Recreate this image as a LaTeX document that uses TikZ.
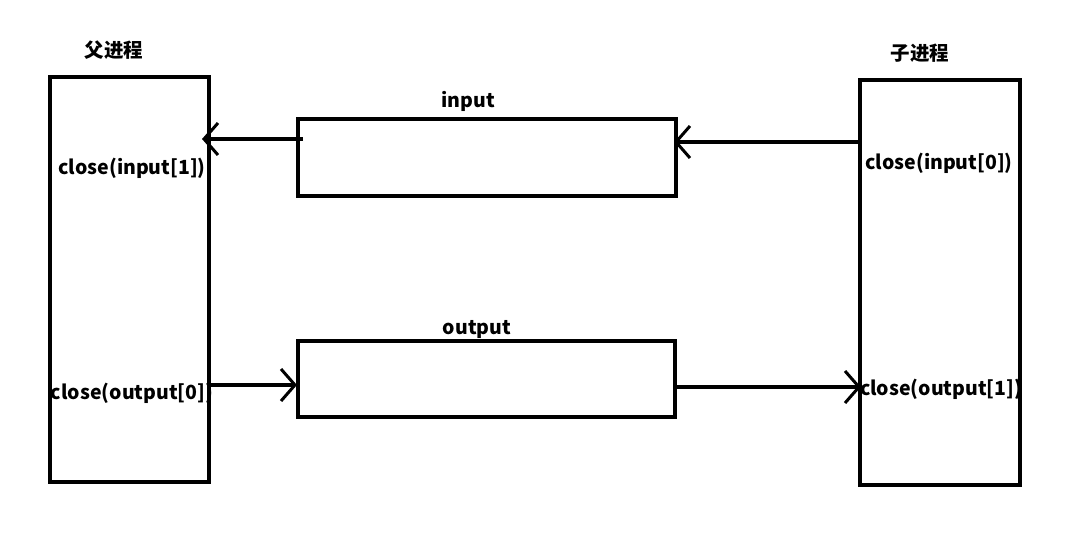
\documentclass[tikz,border=0pt]{standalone}
\usepackage{fontspec}
\setmainfont{Noto Sans CJK SC}
\usetikzlibrary{arrows.meta}
\begin{document}
\begin{tikzpicture}[x=1pt,y=-1pt,
  proc/.style={draw=black,line width=4pt,minimum width=159pt,minimum height=405pt,inner sep=0pt},
  pipe/.style={draw=black,line width=4pt,minimum width=378pt,minimum height=77pt,inner sep=0pt},
  lbl/.style={font=\fontsize{19.5pt}{21pt}\selectfont\bfseries,text=black,inner sep=0pt},
  arr/.style={line width=4pt,-{Straight Barb[length=14pt,width=32pt,line width=3pt]}}]
\useasboundingbox (0,0) rectangle (1079,533);
\node[proc] (par) at (129.5,279.5) {};
\node[proc,minimum width=160pt] (chi) at (940,282.5) {};
\node[pipe] (in) at (487,157.5) {};
\node[pipe,minimum width=377pt,minimum height=76pt] (out) at (486.5,379) {};
\node[lbl] (tpar) at (114,50) {父进程};
\node[lbl] (tchi) at (920,53) {子进程};
\node[lbl] (tin) at (468,101) {input};
\node[lbl] (tout) at (477,329) {output};
\node[lbl] (c1) at (132,168) {close(input[1])};
\node[lbl] (c2) at (939,163) {close(input[0])};
\node[lbl] (c3) at (132,393) {close(output[0])};
\node[lbl] (c4) at (941,389) {close(output[1])};
\coordinate (a1s) at (303,139);
\coordinate (a1e) at (202,139);
\coordinate (a2s) at (860,142);
\coordinate (a2e) at (674,142);
\coordinate (a3s) at (211,385);
\coordinate (a3e) at (297,385);
\coordinate (a4s) at (675,387);
\coordinate (a4e) at (861,387);
\draw[arr] (a1s) -- (a1e);
\draw[arr] (a2s) -- (a2e);
\draw[arr] (a3s) -- (a3e);
\draw[arr] (a4s) -- (a4e);
\end{tikzpicture}
\end{document}
